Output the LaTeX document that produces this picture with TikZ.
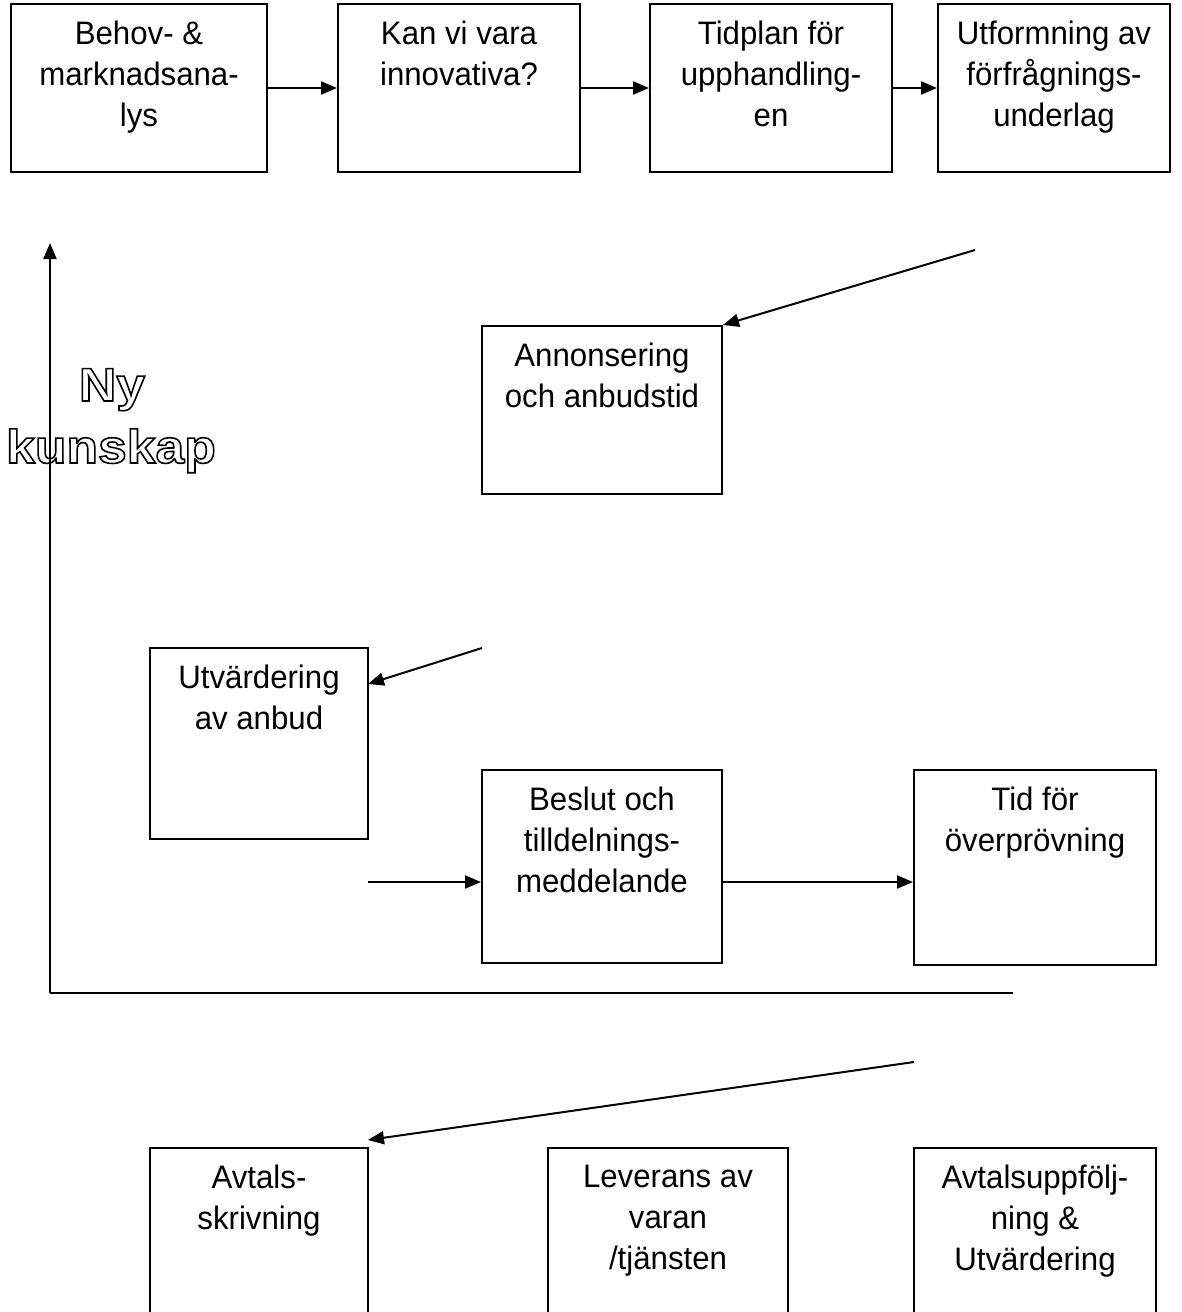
\documentclass[tikz,border=0pt]{standalone}
\usepackage{fontspec}
\setmainfont[FakeStretch=0.96]{Liberation Sans}
\newfontfamily\nyfont[FakeStretch=1.1]{Liberation Sans}
\usetikzlibrary{arrows.meta}
\newcommand{\outlinetext}[1]{\special{pdf:literal direct 1 Tr 1.6 w}#1\special{pdf:literal direct 0 Tr}}
\tikzset{
  box/.style={draw, line width=2pt, inner sep=0pt},
  txt/.style={anchor=north, align=center, inner sep=0pt, font=\fontsize{32.5}{41}\selectfont},
  ny/.style={anchor=base, inner sep=0pt, font=\nyfont\bfseries\fontsize{47}{50}\selectfont},
  conn/.style={line width=2pt, -{Triangle[length=16pt,width=13pt]}},
  plain/.style={line width=2pt}
}
\begin{document}
\begin{tikzpicture}[x=1pt,y=-1pt]
\useasboundingbox (0,0) rectangle (1181,1312);
\clip (0,0) rectangle (1181,1312);
% top row
\node[box, minimum width=256, minimum height=168] (b1) at (139,88) {};
\node[box, minimum width=242, minimum height=168] (b2) at (459,88) {};
\node[box, minimum width=242, minimum height=168] (b3) at (771,88) {};
\node[box, minimum width=232, minimum height=168] (b4) at (1054,88) {};
\node[txt] (t1) at ([yshift=-18pt]b1.north) {Behov- \&\\marknadsana-\\lys};
\node[txt] (t2) at ([yshift=-18pt]b2.north) {Kan vi vara\\innovativa?};
\node[txt] (t3) at ([yshift=-18pt]b3.north) {Tidplan för\\upphandling-\\en};
\node[txt] (t4) at ([yshift=-18pt]b4.north) {Utformning av\\förfrågnings-\\underlag};
% middle
\node[box, minimum width=240, minimum height=168] (b5) at (602,410) {};
\node[txt] (t5) at ([yshift=-18pt]b5.north) {Annonsering\\och anbudstid};
\node[box, minimum width=218, minimum height=191] (b6) at (259,743.5) {};
\node[txt] (t6) at ([yshift=-18pt]b6.north) {Utvärdering\\av anbud};
\node[box, minimum width=240, minimum height=193] (b7) at (602,866.5) {};
\node[txt] (t7) at ([yshift=-18pt]b7.north) {Beslut och\\tilldelnings-\\meddelande};
\node[box, minimum width=242, minimum height=195] (b8) at (1035,867.5) {};
\node[txt] (t8) at ([yshift=-18pt]b8.north) {Tid för\\överprövning};
% bottom
\node[box, minimum width=218, minimum height=200] (b9) at (259,1248) {};
\node[txt] (t9) at ([yshift=-18pt]b9.north) {Avtals-\\skrivning};
\node[box, minimum width=240, minimum height=200] (b10) at (668,1248) {};
\node[txt] (t10) at ([yshift=-18pt]b10.north) {Leverans av\\varan\\/tjänsten};
\node[box, minimum width=242, minimum height=200] (b11) at (1035,1248) {};
\node[txt] (t11) at ([yshift=-18pt]b11.north) {Avtalsuppfölj-\\ning \&\\Utvärdering};
% Ny kunskap
\node[ny] (ny1) at (112,401) {\outlinetext{Ny}};
\node[ny] (ny2) at (111,463) {\outlinetext{kunskap}};
% connectors
\draw[conn] (b1.east) -- (b2.west);
\draw[conn] (b2.east) -- (b3.west);
\draw[conn] (b3.east) -- (b4.west);
\coordinate (s5) at (975,250);
\draw[conn] (s5) -- (b5.north east);
\coordinate (s6) at (482,648);
\coordinate (e6) at (368,684);
\draw[conn] (s6) -- (e6);
\coordinate (s7) at (368,882);
\draw[conn] (s7) -- (b7.west |- s7);
\draw[conn] (b7.east |- s7) -- (b8.west |- s7);
\coordinate (s9) at (914,1062);
\coordinate (e9) at (368,1140);
\draw[conn] (s9) -- (e9);
% feedback axes
\coordinate (corner) at (50,993);
\coordinate (top) at (50,243);
\coordinate (right) at (1013,993);
\draw[conn] (corner) -- (top);
\draw[plain] (corner) -- (right);
\end{tikzpicture}
\end{document}
